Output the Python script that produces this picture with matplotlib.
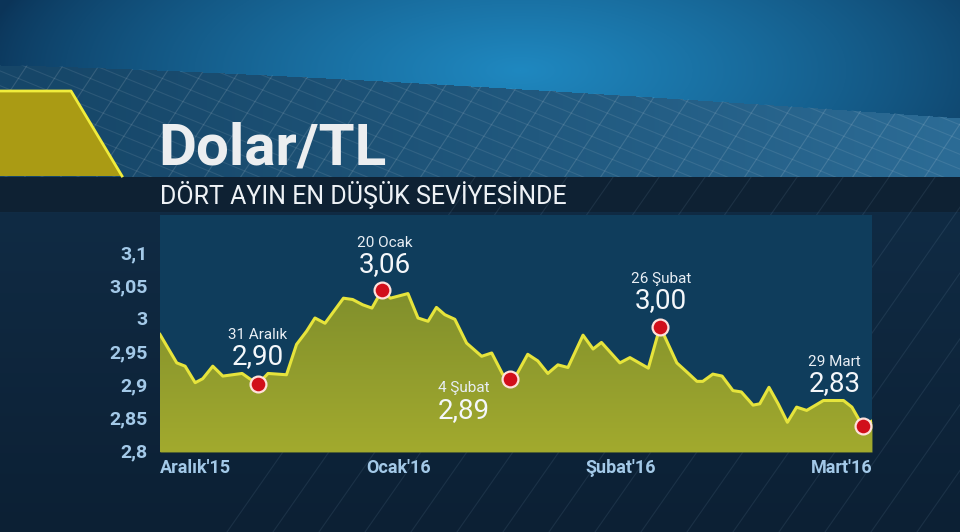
import numpy as np
import matplotlib.pyplot as plt
from matplotlib.patches import Polygon
from matplotlib.colors import LinearSegmentedColormap

# veri: işlem günü sırası ve Dolar/TL kuru
gun = [0, 2.0, 3.0, 4.2, 5.1, 6.3, 7.5, 9.8, 10.7, 11.7, 12.9, 15.1, 16.3, 17.5, 18.5,
       19.7, 21.9, 23.0, 24.2, 25.3, 26.5, 27.5, 29.6, 30.8, 32.0, 33.0, 34.0, 35.2,
       36.6, 38.4, 39.6, 40.9, 41.8, 42.6, 43.9, 45.1, 46.3, 47.5, 48.7, 50.5, 51.7,
       52.7, 54.9, 56.1, 58.3, 59.7, 61.7, 63.0, 64.1, 64.8, 66.0, 67.1, 68.4, 69.4,
       70.8, 71.6, 72.7, 73.8, 74.9, 76.0, 77.2, 79.2, 81.6, 82.6, 83.9, 85.0]
kur = [2.975, 2.932, 2.927, 2.902, 2.908, 2.927, 2.912, 2.916, 2.908, 2.900,
       2.916, 2.914, 2.960, 2.980, 3.000, 2.992, 3.030, 3.028, 3.020, 3.015,
       3.042, 3.030, 3.037, 3.000, 2.995, 3.016, 3.005, 2.998, 2.962, 2.942,
       2.947, 2.915, 2.908, 2.915, 2.945, 2.935, 2.916, 2.929, 2.925, 2.974,
       2.953, 2.963, 2.932, 2.940, 2.924, 2.987, 2.932, 2.917, 2.904, 2.904,
       2.915, 2.912, 2.890, 2.888, 2.868, 2.870, 2.895, 2.870, 2.842, 2.865,
       2.860, 2.875, 2.875, 2.865, 2.836, 2.844]

isaret_idx = [9, 20, 32, 45, 64]
isaret_tarih = ['31 Aralık', '20 Ocak', '4 Şubat', '26 Şubat', '29 Mart']
isaret_deger = ['2,90', '3,06', '2,89', '3,00', '2,83']
# etiket kaydırmaları (piksel): yatay, tarih, değer
isaret_ofset = [(0, 49, 27), (3, 47, 26), (-46, -9, -32), (1, 48, 26), (-28, 64, 43)]

y_ticks = [2.8, 2.85, 2.9, 2.95, 3.0, 3.05, 3.1]
y_etiket = ['2,8', '2,85', '2,9', '2,95', '3', '3,05', '3,1']
x_ticks = [0, 28.5, 55, 85]
x_etiket = ["Aralık'15", "Ocak'16", "Şubat'16", "Mart'16"]

W, H = 960, 532
fig = plt.figure(figsize=(W / 100, H / 100), dpi=100)

# ---- arka plan ----
bg = fig.add_axes([0, 0, 1, 1])
bg.set_xlim(0, W)
bg.set_ylim(H, 0)
bg.axis('off')

yy, xx = np.mgrid[0:H, 0:W].astype(float)
navy_top = np.array([16, 43, 68]) / 255
navy_bot = np.array([12, 32, 52]) / 255
t = np.clip((yy - 212) / (H - 212), 0, 1)[..., None]
img = navy_top * (1 - t) + navy_bot * t

curve = 65 + 53 * (xx / W) ** 1.3
d = np.sqrt(((xx - 520) / 540) ** 2 + ((yy - 70) / 210) ** 2)
r = np.clip(1 - d, 0, 1)[..., None] ** 0.75
top_dark = np.array([11, 52, 88]) / 255
top_light = np.array([31, 136, 192]) / 255
top = top_dark * (1 - r) + top_light * r
img = np.where((yy < curve)[..., None], top, img)

band_l = np.array([22, 70, 104]) / 255
band_r = np.array([44, 108, 150]) / 255
s = np.clip(xx / W, 0, 1)[..., None] ** 1.2
band = band_l * (1 - s) + band_r * s
img = np.where(((yy >= curve) & (yy < 177))[..., None], band, img)

sub = np.array([14, 33, 51]) / 255
img = np.where(((yy >= 177) & (yy < 212))[..., None], sub, img)

bg.imshow(img, extent=(0, W, H, 0), aspect='auto', zorder=0)

# üçgen ızgara çizgileri
xs = np.linspace(0, W, 60)
band_poly = Polygon(list(zip(xs, 65 + 53 * (xs / W) ** 1.3)) + [(W, 177), (0, 177)],
                    closed=True, transform=bg.transData, facecolor='none', edgecolor='none')
bg.add_patch(band_poly)
for k in np.arange(-400, 1500, 36):
    l1, = bg.plot([k, k + 160], [220, -20], color='white', alpha=0.13, lw=0.8, zorder=1)
    l1.set_clip_path(band_poly)
    l2, = bg.plot([k - 240, k + 200], [30, 210], color='white', alpha=0.09, lw=0.8, zorder=1)
    l2.set_clip_path(band_poly)

low_poly = Polygon([(0, 177), (W, 177), (W, H), (0, H)], closed=True, transform=bg.transData,
                   facecolor='none', edgecolor='none')
bg.add_patch(low_poly)
for k in np.arange(480, 1500, 46):
    ln, = bg.plot([k - 260, k], [H + 10, 170], color='#9fc4e0', alpha=0.10, lw=0.8, zorder=1)
    ln.set_clip_path(low_poly)

# sarı yamuk
bg.add_patch(Polygon([(0, 91), (71, 91), (122, 176), (0, 176)], closed=True,
                     facecolor='#aa9b14', edgecolor='none', zorder=2))
bg.plot([0, 71, 122], [91, 91, 176], color='#f0ec3c', lw=2, zorder=3)

# başlık
bg.text(158, 165, 'Dolar/TL', color='#eceef0', fontsize=42, fontweight='bold',
        family='Roboto', va='baseline', ha='left', zorder=4)
bg.text(160, 204, 'DÖRT AYIN EN DÜŞÜK SEVİYESİNDE', color='#eef2f6', fontsize=18,
        family='Roboto', va='baseline', ha='left', zorder=4)

# ---- grafik ----
ax = fig.add_axes([160 / W, (H - 452) / H, 712 / W, 237 / H])
ax.set_facecolor('#0f3d5c')
ymin, ymax = 2.797, 3.156
ax.set_xlim(0, 85)
ax.set_ylim(ymin, ymax)

fill = ax.fill_between(gun, kur, ymin, color='#8e9a2c', lw=0, zorder=2)
grad = np.linspace(0, 1, 256)[:, None]
cmap = LinearSegmentedColormap.from_list('yesil', ['#a2aa2e', '#7e8d2c'])
im = ax.imshow(grad, extent=(0, 85, ymin, 3.06), origin='lower', cmap=cmap, aspect='auto', zorder=2)
im.set_clip_path(fill.get_paths()[0], transform=ax.transData)

ax.plot(gun, kur, color='#e6e43c', lw=2.2, zorder=3, solid_joinstyle='round')

mx = [gun[i] for i in isaret_idx]
my = [kur[i] for i in isaret_idx]
ax.scatter(mx, my, s=130, color='#d10f1a', edgecolor='#ffe2dc', linewidth=1.6, zorder=5)

for xi, yi, tarih, deger, (dx, dt, dv) in zip(mx, my, isaret_tarih, isaret_deger, isaret_ofset):
    ax.annotate(tarih, (xi, yi), xytext=(dx, dt), textcoords='offset pixels', ha='center',
                va='center', color='#e8eef4', fontsize=11, family='Roboto', zorder=6,
                annotation_clip=False)
    ax.annotate(deger, (xi, yi), xytext=(dx, dv), textcoords='offset pixels', ha='center',
                va='center', color='#f4f7fa', fontsize=20, family='Roboto', zorder=6,
                annotation_clip=False)

ax.set_yticks(y_ticks)
ax.set_yticklabels(y_etiket, color='#a3c9e8', fontsize=14, fontweight='bold', family='Roboto')
ax.set_xticks(x_ticks)
ax.set_xticklabels(x_etiket, color='#a3c9e8', fontsize=13, fontweight='bold', family='Roboto')
for lab, ha in zip(ax.get_xticklabels(), ['left', 'center', 'center', 'right']):
    lab.set_ha(ha)
ax.tick_params(length=0, axis='y', pad=9)
ax.tick_params(length=0, axis='x', pad=5)
for sp in ax.spines.values():
    sp.set_visible(False)

fig.savefig('out.png', dpi=100)
